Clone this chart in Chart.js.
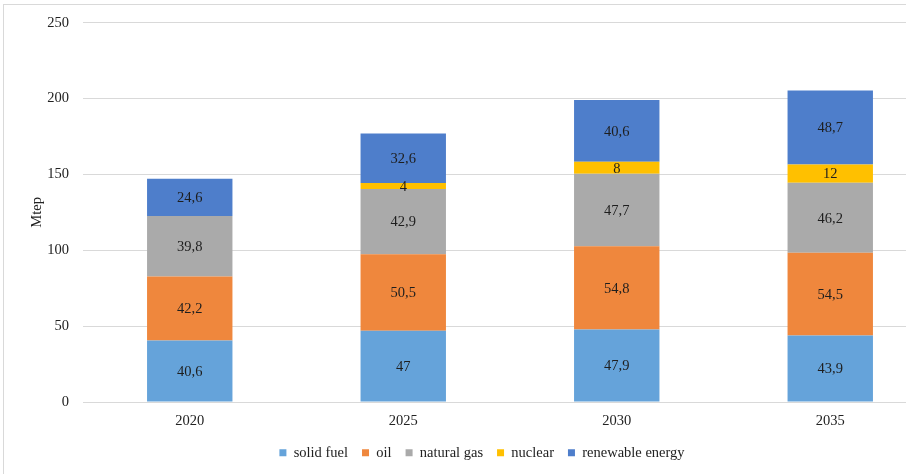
<!DOCTYPE html>
<html>
<head>
<meta charset="utf-8">
<script src="https://cdn.jsdelivr.net/npm/chart.js@4.4.1/dist/chart.umd.min.js"></script>
<style>
  html, body { margin: 0; padding: 0; background: #fff; overflow: hidden; width: 906px; height: 474px; }
  #wrap { position: absolute; left: 0; top: 0; width: 964px; height: 474px; }
  #frame { position: absolute; left: 3px; top: 4px; width: 1000px; height: 600px; border: 1px solid #d9d9d9; pointer-events: none; }
</style>
</head>
<body>
<div id="wrap"><canvas id="c" width="964" height="474"></canvas></div>
<div id="frame"></div>
<script>
// Primary energy demand by source (Mtep)
const years = ['2020', '2025', '2030', '2035'];
const solidFuel = [40.6, 47, 47.9, 43.9];
const oil = [42.2, 50.5, 54.8, 54.5];
const naturalGas = [39.8, 42.9, 47.7, 46.2];
const nuclear = [0, 4, 8, 12];
const renewable = [24.6, 32.6, 40.6, 48.7];
const yTicks = [0, 50, 100, 150, 200, 250];

const seriesNames = ['solid fuel', 'oil', 'natural gas', 'nuclear', 'renewable energy'];
const seriesData = [solidFuel, oil, naturalGas, nuclear, renewable];
const seriesColors = ['#65a3da', '#ef873d', '#aaaaaa', '#ffc000', '#4e7ecb'];

const FONT = "'Liberation Serif', 'Times New Roman', serif";

// Writes each segment's value (decimal comma) in the middle of its bar
const segmentLabels = {
  id: 'segmentLabels',
  afterDatasetsDraw(chart) {
    const ctx = chart.ctx;
    ctx.save();
    ctx.font = '14.5px ' + FONT;
    ctx.fillStyle = '#1e1e1e';
    ctx.textAlign = 'center';
    ctx.textBaseline = 'middle';
    chart.data.datasets.forEach((ds, di) => {
      const meta = chart.getDatasetMeta(di);
      meta.data.forEach((bar, i) => {
        const v = ds.data[i];
        if (!v) return;
        const y = (bar.y + bar.base) / 2;
        ctx.fillText(String(v).replace('.', ','), bar.x, y + 1);
      });
    });
    ctx.restore();
  }
};

new Chart(document.getElementById('c'), {
  type: 'bar',
  data: {
    labels: years,
    datasets: seriesNames.map((name, k) => ({
      label: name,
      data: seriesData[k],
      backgroundColor: seriesColors[k],
      borderWidth: 0,
      barPercentage: 0.4,
      categoryPercentage: 1.0
    }))
  },
  options: {
    responsive: false,
    animation: false,
    devicePixelRatio: 1,
    layout: { padding: { top: 22, bottom: 4, left: 0, right: 0 } },
    plugins: {
      legend: {
        position: 'bottom',
        labels: {
          font: { family: FONT, size: 14.5 },
          color: '#222',
          boxWidth: 7,
          boxHeight: 7,
          padding: 14
        }
      },
      tooltip: { enabled: false }
    },
    scales: {
      x: {
        stacked: true,
        grid: { display: false },
        border: { display: false },
        ticks: { font: { family: FONT, size: 14.5 }, color: '#222', padding: 2 }
      },
      y: {
        stacked: true,
        min: 0,
        max: 250,
        afterBuildTicks(scale) { scale.ticks = yTicks.map(v => ({ value: v })); },
        afterFit(scale) { scale.width = 83; },
        grid: { color: '#d9d9d9', lineWidth: 1, drawTicks: false },
        border: { display: false },
        ticks: { font: { family: FONT, size: 14.5 }, color: '#222', padding: 14 },
        title: {
          display: true,
          text: 'Mtep',
          font: { family: FONT, size: 14.5 },
          color: '#222',
          padding: { top: 28, bottom: 0 }
        }
      },
      yRight: {
        position: 'right',
        display: true,
        grid: { display: false, drawTicks: false },
        border: { display: false },
        ticks: { display: false },
        afterFit(scale) { scale.width = 27; }
      }
    }
  },
  plugins: [segmentLabels]
});
</script>
</body>
</html>
